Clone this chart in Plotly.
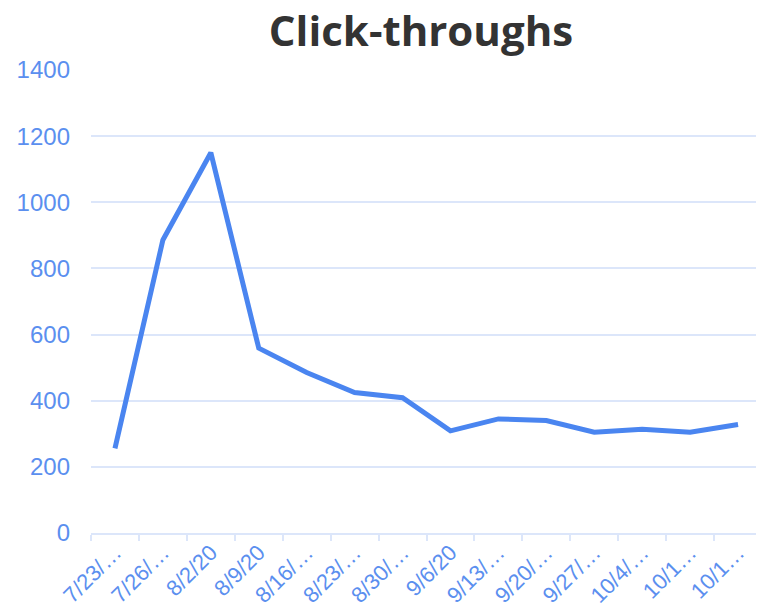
import plotly.graph_objects as go

# Weekly click-throughs (labels truncated as shown on the chart)
week_labels = [
    "7/23/…", "7/26/…", "8/2/20", "8/9/20", "8/16/…", "8/23/…", "8/30/…",
    "9/6/20", "9/13/…", "9/20/…", "9/27/…", "10/4/…", "10/1…", "10/1…",
]
week_keys = [f"w{i}" for i in range(len(week_labels))]
clicks = [256, 886, 1150, 559, 485, 425, 409, 309, 345, 340, 305, 314, 305, 328]

y_ticks = [0, 200, 400, 600, 800, 1000, 1200, 1400]

LINE_BLUE = "#4A85F0"
TEXT_BLUE = "#5B8FEF"
GRID_BLUE = "#DCE6FA"

# the page body adds an 8px margin, so the figure is a bit smaller than the window
W, H = 756, 602

fig = go.Figure()

fig.add_trace(
    go.Scatter(
        x=week_keys,
        y=clicks,
        mode="lines",
        line=dict(color=LINE_BLUE, width=5),
        name="Click-throughs",
    )
)

fig.update_layout(
    title=dict(
        text="<b>Click-throughs</b>",
        font=dict(family="Open Sans", size=42, color="#333333"),
        x=413 / W,
        xanchor="center",
        xref="container",
        y=1 - 23 / H,
        yanchor="middle",
        yref="container",
    ),
    width=W,
    height=H,
    margin=dict(l=83, r=2, t=62, b=77),
    paper_bgcolor="white",
    plot_bgcolor="white",
    showlegend=False,
    font=dict(family="Liberation Sans, Arial", color=TEXT_BLUE),
)

fig.update_xaxes(
    type="category",
    tickmode="array",
    tickvals=week_keys,
    ticktext=week_labels,
    tickangle=-45,
    tickson="boundaries",
    ticks="outside",
    ticklen=6,
    tickcolor=GRID_BLUE,
    tickwidth=2,
    showline=True,
    linecolor=GRID_BLUE,
    linewidth=2,
    showgrid=False,
    automargin=False,
    ticklabelstandoff=-4,
    tickfont=dict(size=22, color=TEXT_BLUE),
    range=[-0.5, len(week_keys) - 0.5],
)

fig.update_yaxes(
    range=[0, 1400],
    tickvals=y_ticks,
    showgrid=True,
    gridcolor=GRID_BLUE,
    gridwidth=2,
    zeroline=False,
    showline=False,
    ticks="",
    automargin=False,
    ticklabelstandoff=20,
    tickfont=dict(size=24, color=TEXT_BLUE),
)

fig.write_html("out.html")
